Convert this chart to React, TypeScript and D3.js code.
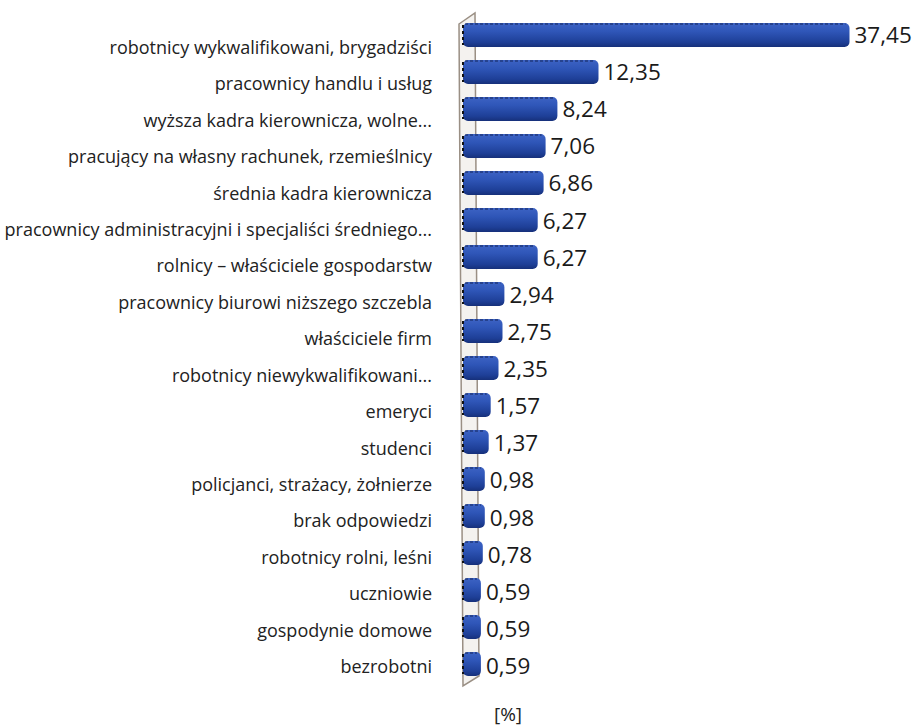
import React from "react";
import { scaleLinear, scalePoint } from "d3";

const categories = [
  "robotnicy wykwalifikowani, brygadziści",
  "pracownicy handlu i usług",
  "wyższa kadra kierownicza, wolne...",
  "pracujący na własny rachunek, rzemieślnicy",
  "średnia kadra kierownicza",
  "pracownicy administracyjni i specjaliści średniego...",
  "rolnicy – właściciele gospodarstw",
  "pracownicy biurowi niższego szczebla",
  "właściciele firm",
  "robotnicy niewykwalifikowani...",
  "emeryci",
  "studenci",
  "policjanci, strażacy, żołnierze",
  "brak odpowiedzi",
  "robotnicy rolni, leśni",
  "uczniowie",
  "gospodynie domowe",
  "bezrobotni",
];
const values = [
  37.45, 12.35, 8.24, 7.06, 6.86, 6.27, 6.27, 2.94, 2.75, 2.35, 1.57, 1.37,
  0.98, 0.98, 0.78, 0.59, 0.59, 0.59,
];
const valueLabels = values.map((v) => v.toFixed(2).replace(".", ","));
const unitLabel = "[%]";

const W = 915;
const H = 726;

export default function App() {
  const x = scaleLinear().domain([0, 40]).range([475, 875]);
  // perspective: bars, value labels and category labels drift slightly apart
  const yBar = scalePoint<string>().domain(categories).range([35, 664]);
  const yValue = scalePoint<string>().domain(categories).range([43, 674]);
  const yLabel = scalePoint<string>().domain(categories).range([54, 673]);
  const barH = 24;
  const cap = 12;

  return (
    <svg
      width={W}
      height={H}
      style={{ position: "absolute", left: 0, top: 0, background: "#fff" }}
      fontFamily="'Open Sans', Lato, sans-serif"
    >
      <defs>
        <linearGradient id="barGrad" x1="0" y1="0" x2="0" y2="1">
          <stop offset="0" stopColor="#3d63c4" />
          <stop offset="0.35" stopColor="#2f56b8" />
          <stop offset="0.8" stopColor="#1e3f97" />
          <stop offset="1" stopColor="#16307a" />
        </linearGradient>
      </defs>

      {/* 3D wall */}
      <path
        d="M459,24 L475,13 L479,676 L463,686 Z"
        fill="#f4f2ef"
        stroke="#9a8f84"
        strokeWidth={1.5}
      />

      {categories.map((c, i) => {
        const x0 = x(0) - cap;
        const x1 = x(values[i]);
        const yc = yBar(c)!;
        return (
          <g key={c}>
            <rect
              x={x0}
              y={yc - barH / 2}
              width={x1 - x0}
              height={barH}
              rx={5}
              fill="url(#barGrad)"
            />
            <line
              x1={x0 + 2}
              x2={x1 - 4}
              y1={yc - barH / 2 + 1}
              y2={yc - barH / 2 + 1}
              stroke="#13245a"
              strokeWidth={1.2}
              strokeDasharray="3,2"
            />
            <line
              x1={x0}
              x2={x0}
              y1={yc - barH / 2 + 2}
              y2={yc + barH / 2 - 2}
              stroke="#111"
              strokeWidth={2}
              strokeDasharray="3,3"
            />
            <text
              x={432}
              y={yLabel(c)}
              textAnchor="end"
              fontSize={18}
              fill="#222"
            >
              {c}
            </text>
            <text x={x1 + 5} y={yValue(c)} fontSize={22.5} fill="#1a1a1a">
              {valueLabels[i]}
            </text>
          </g>
        );
      })}

      <text x={508} y={721} textAnchor="middle" fontSize={19} fill="#222">
        {unitLabel}
      </text>
    </svg>
  );
}
